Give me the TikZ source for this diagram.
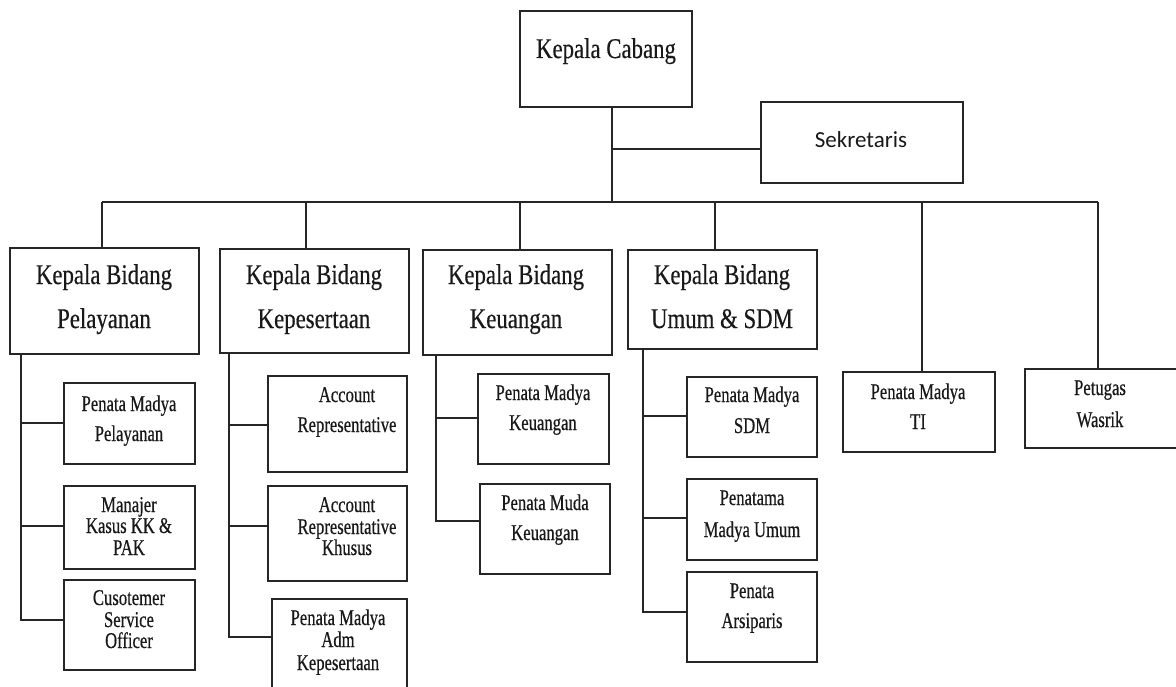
\documentclass[tikz,border=0pt]{standalone}
\usepackage{fontspec}
\setmainfont{Liberation Serif}
\newfontfamily\bigf[FakeStretch=0.8,FakeBold=0.4]{Liberation Serif}
\newfontfamily\smf[FakeStretch=0.74,FakeBold=0.5]{Liberation Serif}
\newfontfamily\sekf{Carlito}
\newcommand\orgbox[5]{\node[box, minimum width={#4pt-#2pt}, minimum height={#5pt-#3pt}] (#1) at (#2,#3) {};}
\begin{document}
\begin{tikzpicture}[x=1pt,y=-1pt,
 box/.style={draw=black!85, line width=1.2pt, rectangle, inner sep=0pt, outer sep=0pt, anchor=north west},
 conn/.style={draw=black!85, line width=1.2pt},
 bigt/.style={font=\bigf\fontsize{28.5}{30}\selectfont, anchor=base, inner sep=0pt, text=black!90},
 smt/.style={font=\smf\fontsize{22.5}{24}\selectfont, anchor=base, inner sep=0pt, text=black!90},
 sekt/.style={font=\sekf\fontsize{23}{25}\selectfont, anchor=base, inner sep=0pt, text=black!90}]
\useasboundingbox (0,0) rectangle (1176,687);
% boxes
\orgbox{kc}{520}{11}{692}{107}
\orgbox{sek}{761}{102}{963}{183}
\orgbox{kbp}{10}{248}{199}{354}
\orgbox{kbk}{220}{249}{409}{353}
\orgbox{kbkeu}{423}{250}{612}{355}
\orgbox{kbs}{628}{250}{817}{349}
\orgbox{ti}{843}{372}{995}{452}
\orgbox{was}{1025}{369}{1180}{448}
\orgbox{pmp}{64}{383}{195}{464}
\orgbox{mk}{64}{486}{195}{569}
\orgbox{cso}{64}{580}{195}{670}
\orgbox{ar}{268}{376}{407}{472}
\orgbox{ark}{268}{486}{407}{581}
\orgbox{pma}{272}{599}{407}{700}
\orgbox{pmk}{478}{374}{609}{464}
\orgbox{pmuk}{480}{484}{610}{574}
\orgbox{pms}{687}{377}{817}{457}
\orgbox{pmu}{687}{479}{817}{560}
\orgbox{pa}{687}{572}{817}{662}
% connectors
\coordinate (bus) at (0,202);
\coordinate (kcd) at ([xshift=6pt]kc.south);
\coordinate (d1) at ([xshift=-2.5pt]kbp.north);
\coordinate (d2) at ([xshift=-8.5pt]kbk.north);
\coordinate (d3) at ([xshift=2.5pt]kbkeu.north);
\coordinate (d4) at ([xshift=-7.5pt]kbs.north);
\coordinate (d5) at ([xshift=3pt]ti.north);
\coordinate (d6) at ([xshift=-4.5pt]was.north);
\draw[conn] (kcd) -- (kcd |- bus);
\draw[conn] (kcd |- 0,149) -- (sek.west |- 0,149);
\draw[conn] (d1 |- bus) -- (d6 |- bus);
\foreach \d in {d1,d2,d3,d4,d5,d6} \draw[conn] (\d) -- (\d |- bus);
% Pelayanan
\coordinate (tp) at (kbp.south -| 21,0);
\draw[conn] (tp) |- (cso.west |- 0,620);
\draw[conn] (tp |- 0,423) -- (pmp.west |- 0,423);
\draw[conn] (tp |- 0,526) -- (mk.west |- 0,526);
% Kepesertaan
\coordinate (tk) at (kbk.south -| 229,0);
\draw[conn] (tk) |- (pma.west |- 0,637);
\draw[conn] (tk |- 0,425) -- (ar.west |- 0,425);
\draw[conn] (tk |- 0,526) -- (ark.west |- 0,526);
% Keuangan
\coordinate (tu) at (kbkeu.south -| 436,0);
\draw[conn] (tu) |- (pmuk.west |- 0,521);
\draw[conn] (tu |- 0,418) -- (pmk.west |- 0,418);
% Umum & SDM
\coordinate (ts) at (kbs.south -| 643,0);
\draw[conn] (ts) |- (pa.west |- 0,612);
\draw[conn] (ts |- 0,416) -- (pms.west |- 0,416);
\draw[conn] (ts |- 0,518) -- (pmu.west |- 0,518);
% texts
\node[bigt] (kct) at (606,58) {Kepala Cabang};
\node[sekt] (sekl) at (861,148) {Sekretaris};
\node[bigt] (kbp1) at (104,284) {Kepala Bidang};
\node[bigt] (kbp2) at (104,328) {Pelayanan};
\node[bigt] (kbk1) at (314,284) {Kepala Bidang};
\node[bigt] (kbk2) at (314,328) {Kepesertaan};
\node[bigt] (kbkeu1) at (516,284) {Kepala Bidang};
\node[bigt] (kbkeu2) at (516,328) {Keuangan};
\node[bigt] (kbs1) at (722,284) {Kepala Bidang};
\node[bigt] (kbs2) at (722,328) {Umum \& SDM};
\node[smt] (ti1) at (918,399) {Penata Madya};
\node[smt] (ti2) at (918,429) {TI};
\node[smt] (was1) at (1100,395) {Petugas};
\node[smt] (was2) at (1100,427) {Wasrik};
\node[smt] (pmp1) at (129,411) {Penata Madya};
\node[smt] (pmp2) at (129,441) {Pelayanan};
\node[smt] (mk1) at (129,512) {Manajer};
\node[smt] (mk2) at (129,533) {Kasus KK \&};
\node[smt] (mk3) at (129,555) {PAK};
\node[smt] (cso1) at (129,605) {Cusotemer};
\node[smt] (cso2) at (129,627) {Service};
\node[smt] (cso3) at (129,648) {Officer};
\node[smt] (ar1) at (347,402) {Account};
\node[smt] (ar2) at (347,432) {Representative};
\node[smt] (ark1) at (347,512) {Account};
\node[smt] (ark2) at (347,534) {Representative};
\node[smt] (ark3) at (347,555) {Khusus};
\node[smt] (pma1) at (338,625) {Penata Madya};
\node[smt] (pma2) at (338,647) {Adm};
\node[smt] (pma3) at (338,670) {Kepesertaan};
\node[smt] (pmk1) at (543,400) {Penata Madya};
\node[smt] (pmk2) at (543,430) {Keuangan};
\node[smt] (pmuk1) at (545,510) {Penata Muda};
\node[smt] (pmuk2) at (545,540) {Keuangan};
\node[smt] (pms1) at (752,402) {Penata Madya};
\node[smt] (pms2) at (752,433) {SDM};
\node[smt] (pmu1) at (752,505) {Penatama};
\node[smt] (pmu2) at (752,537) {Madya Umum};
\node[smt] (pa1) at (752,598) {Penata};
\node[smt] (pa2) at (752,628) {Arsiparis};
\end{tikzpicture}
\end{document}
